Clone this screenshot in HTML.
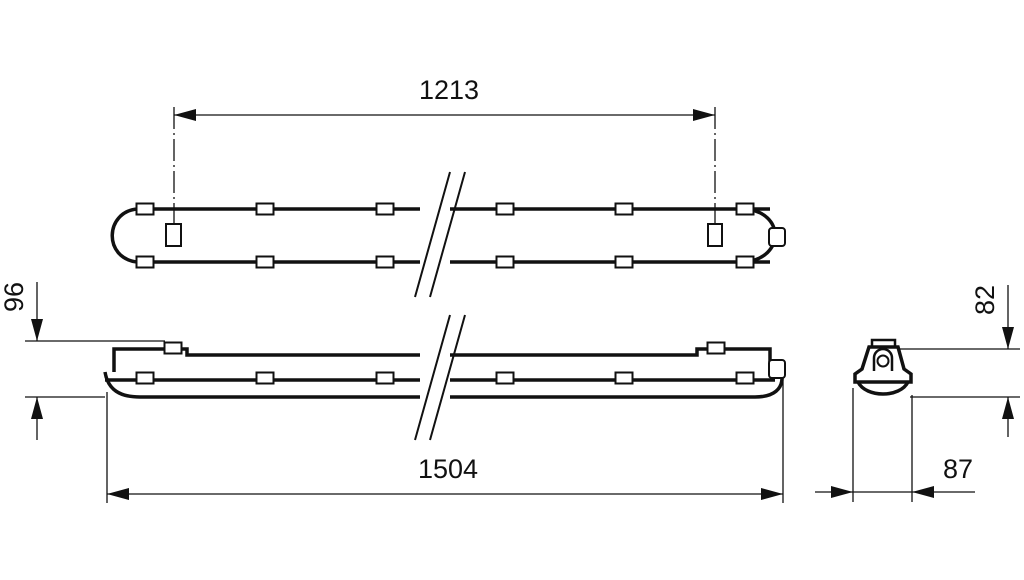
<!DOCTYPE html>
<html><head><style>body{margin:0;background:#fff}svg{display:block}</style></head><body>
<svg width="1024" height="580" viewBox="0 0 1024 580" xmlns="http://www.w3.org/2000/svg" font-family="Liberation Sans, sans-serif">
<defs>
<g id="clip"><rect x="-8.5" y="-5.5" width="17" height="11" fill="#fff" stroke="#111" stroke-width="2"/></g>
</defs>
<g fill="none" stroke="#111">
<!-- top view -->
<path d="M137 209 L420 209 M450 209 L770 209" stroke-width="3.5"/>
<path d="M137 262 L420 262 M450 262 L770 262" stroke-width="3.5"/>
<path d="M137 209 C105 212 103 258 137 262" stroke-width="3.5"/>
<path d="M745 209 C785 212 785 258 745 262" stroke-width="3.5"/>
<rect x="769" y="228" width="16" height="18" rx="3" fill="#fff" stroke-width="2"/>
<rect x="166" y="224" width="15" height="22" stroke-width="2"/>
<rect x="708" y="224" width="14" height="22" stroke-width="2"/>
<path d="M174 107 V224 M715 107 V224" stroke-width="1.3" stroke-dasharray="22 4 2 4"/>
<path d="M415 297 L450 172 M430 297 L465 172" stroke-width="2" />
<!-- side view -->
<path d="M114 372 V349 H165 M182 349 H187 V355 H420 M450 355 H697 V349 H708 M725 349 H770 V362" stroke-width="3.5"/>
<path d="M105 380 H420 M450 380 H775" stroke-width="3.5"/>
<path d="M105 372 C108 390 120 397 140 397 H420 M450 397 H755 C775 397 782 388 782 378" stroke-width="3.5"/>
<rect x="769" y="360" width="16" height="18" rx="3" fill="#fff" stroke-width="2"/>
<path d="M415 440 L450 315 M430 440 L465 315" stroke-width="2"/>
<!-- end view -->
<path d="M872 347 V340 H895 V347" stroke-width="2.5"/>
<path d="M869 347 H898 L904 369 L911 374 V382 H855 V374 L862 369 Z" stroke-width="3.5" fill="#fff"/>
<path d="M874 371 V358 A9 9 0 0 1 892 358 V371" stroke-width="2.5"/>
<circle cx="883" cy="361" r="5.5" stroke-width="2"/>
<path d="M858 382 C866 398 900 398 908 382" stroke-width="3.5"/>
<!-- dims -->
<g stroke-width="1.3">
<path d="M174 115 H715"/>
<path d="M25 341 H165 M25 397 H105 M37 282 V341 M37 397 V440"/>
<path d="M107 392 V503 M783 378 V503 M107 494 H783"/>
<path d="M900 349 H1020 M910 397 H1020 M1008 285 V349 M1008 397 V437"/>
<path d="M853 388 V502 M912 395 V502 M815 492 H975"/>
</g>
</g>
<g fill="#111">
<path d="M174 115 l22 -6 v12z M715 115 l-22 -6 v12z"/>
<path d="M37 341 l-6 -22 h12z M37 397 l-6 22 h12z"/>
<path d="M107 494 l22 -6 v12z M783 494 l-22 -6 v12z"/>
<path d="M1008 349 l-6 -22 h12z M1008 397 l-6 22 h12z"/>
<path d="M853 492 l-22 -6 v12z M912 492 l22 -6 v12z"/>
</g>
<g>
<use href="#clip" x="145" y="209"/><use href="#clip" x="265" y="209"/><use href="#clip" x="385" y="209"/><use href="#clip" x="505" y="209"/><use href="#clip" x="624" y="209"/><use href="#clip" x="745" y="209"/>
<use href="#clip" x="145" y="262"/><use href="#clip" x="265" y="262"/><use href="#clip" x="385" y="262"/><use href="#clip" x="505" y="262"/><use href="#clip" x="624" y="262"/><use href="#clip" x="745" y="262"/>
<use href="#clip" x="173" y="348"/><use href="#clip" x="716" y="348"/>
<use href="#clip" x="145" y="378"/><use href="#clip" x="265" y="378"/><use href="#clip" x="385" y="378"/><use href="#clip" x="505" y="378"/><use href="#clip" x="624" y="378"/><use href="#clip" x="745" y="378"/>
</g>
<g font-size="27" fill="#111">
<text x="449" y="99" text-anchor="middle">1213</text>
<text x="448" y="478" text-anchor="middle">1504</text>
<text x="958" y="478" text-anchor="middle">87</text>
<text transform="translate(23 297) rotate(-90)" text-anchor="middle">96</text>
<text transform="translate(994 300) rotate(-90)" text-anchor="middle">82</text>
</g>
</svg>
</body></html>
